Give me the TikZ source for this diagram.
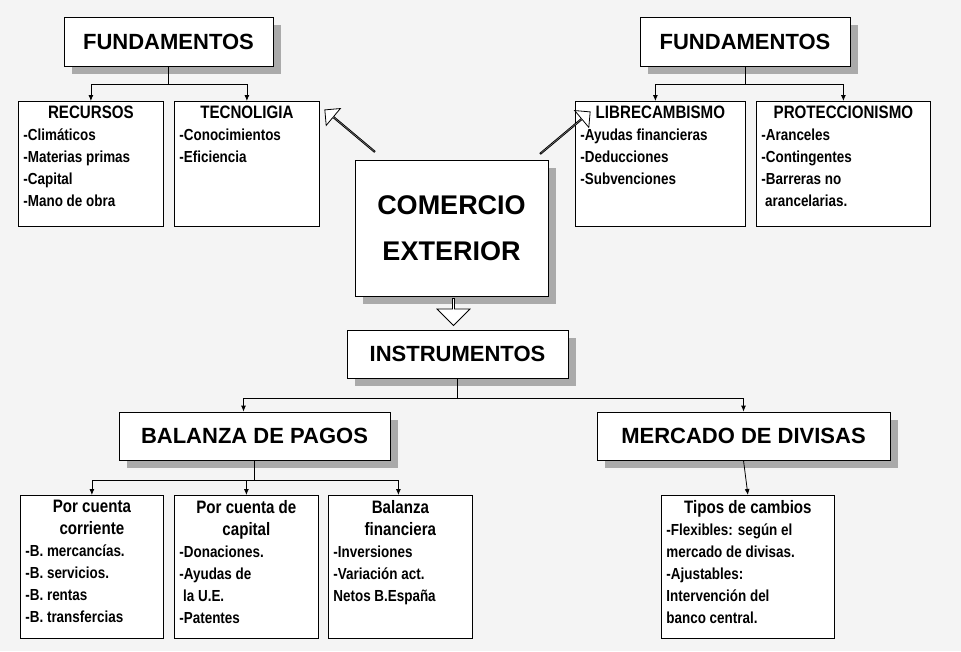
\documentclass[tikz,border=0pt]{standalone}
\usepackage{fontspec}
\setmainfont{Liberation Sans}
\newfontfamily\narrowfont{Liberation Sans}[FakeStretch=0.84]
\usetikzlibrary{shadows, arrows.meta, positioning, shapes.arrows}
\definecolor{my_bg}{RGB}{244, 244, 244}
\definecolor{my_shadow}{RGB}{170, 170, 170}
\tikzset {
  title/.style = {draw, thick, fill=white, text centered, font=\bfseries\fontsize{22}{26}\selectfont, drop shadow={shadow xshift=8pt, shadow yshift=-8pt, fill=my_shadow, opacity=1}},
  box/.style = {draw, thick, fill=white, anchor=north west, inner sep=5pt, font=\narrowfont\bfseries\fontsize{16}{22}\selectfont},
  line/.style = {-{Latex[length=6pt, width=5pt]}, thick, color=black},
  plain/.style = {thick, color=black},
  hollow/.style = {draw, thick, fill=white, single arrow, single arrow head extend=6pt, minimum width=22pt, inner sep=0pt}
}
\newcommand{\boxtext}[3]{\parbox[t][#1][t]{#2}{#3}}
\newcommand{\head}[1]{{\centering\fontsize{18}{22}\selectfont #1\par}}

\begin{document}
\begin{tikzpicture}[x=1pt, y=-1pt]
    \fill[my_bg] (0,0) rectangle (961,651);
    \useasboundingbox (0,0) rectangle (961,651);

    % top left
    \node[title, minimum width=209pt, minimum height=49pt] (fundl) at (168.5,41.5) {FUNDAMENTOS};
    \node[box] (recursos) at (18,101) {\boxtext{115pt}{135pt}{\head{RECURSOS}\raggedright -Climáticos\\-Materias primas\\-Capital\\-Mano de obra}};
    \node[box] (tecno) at (174,101) {\boxtext{115pt}{135pt}{\head{TECNOLIGIA}\raggedright -Conocimientos\\-Eficiencia}};

    % top right
    \node[title, minimum width=210pt, minimum height=49pt] (fundr) at (745,41.5) {FUNDAMENTOS};
    \node[box] (libre) at (575,101) {\boxtext{115pt}{160pt}{\head{LIBRECAMBISMO}\raggedright -Ayudas financieras\\-Deducciones\\-Subvenciones}};
    \node[box] (protec) at (756,101) {\boxtext{115pt}{164pt}{\head{PROTECCIONISMO}\raggedright -Aranceles\\-Contingentes\\-Barreras no\\\ arancelarias.}};

    % centre
    \node[title, minimum width=193pt, minimum height=136pt, align=center, font=\bfseries\fontsize{27}{46}\selectfont] (comercio) at (451.5,228) {COMERCIO\\EXTERIOR};
    \node[title, minimum width=221pt, minimum height=48pt] (instr) at (457.5,354) {INSTRUMENTOS};
    \node[hollow, minimum height=65pt, rotate=140] (arrl) at (350,131) {};
    \node[hollow, minimum height=65pt, rotate=40] (arrr) at (565,133) {};
    \node[hollow, minimum height=27pt, minimum width=33pt, rotate=-90, single arrow head extend=6pt] (arrd) at (453.5,311.5) {};

    % second level
    \node[title, minimum width=271pt, minimum height=48pt] (balanza) at (254.5,436) {BALANZA DE PAGOS};
    \node[title, minimum width=293pt, minimum height=48pt] (mercado) at (743.5,436) {MERCADO DE DIVISAS};

    % bottom
    \node[box] (corriente) at (20,495) {\boxtext{133pt}{133pt}{\head{Por cuenta\\corriente}\raggedright -B. mercancías.\\-B. servicios.\\-B. rentas\\-B. transfercias}};
    \node[box] (capital) at (174,495) {\boxtext{133pt}{134pt}{\head{Por cuenta de\\capital}\raggedright -Donaciones.\\-Ayudas de\\\ la U.E.\\-Patentes}};
    \node[box] (financiera) at (328,495) {\boxtext{133pt}{134pt}{\head{Balanza\\financiera}\raggedright -Inversiones\\-Variación act.\\Netos B.España}};
    \node[box] (tipos) at (661,495) {\boxtext{133pt}{163pt}{\head{Tipos de cambios}\raggedright -Flexibles: según el\\mercado de divisas.\\-Ajustables:\\Intervención del\\banco central.}};

    % connectors
    \draw[plain] (fundl.south) -- ++(0,18) coordinate (fl);
    \draw[line] (fl) -| (recursos.north);
    \draw[line] (fl) -| (tecno.north);
    \draw[plain] (fundr.south) -- ++(0,18) coordinate (fr);
    \draw[line] (fr) -| ([xshift=-5pt]libre.north);
    \draw[line] (fr) -| (protec.north);
    \draw[plain] (instr.south) -- ++(0,20) coordinate (ins);
    \draw[line] (ins) -| ([xshift=-11pt]balanza.north);
    \draw[line] (ins) -| (mercado.north);
    \draw[plain] (balanza.south) -- ++(0,20) coordinate (bal);
    \draw[line] (bal) -| (corriente.north);
    \draw[line] (bal) -| (capital.north);
    \draw[line] (bal) -| ([xshift=-2pt]financiera.north);
    \draw[line] (mercado.south) -- (tipos.north);
\end{tikzpicture}
\end{document}
